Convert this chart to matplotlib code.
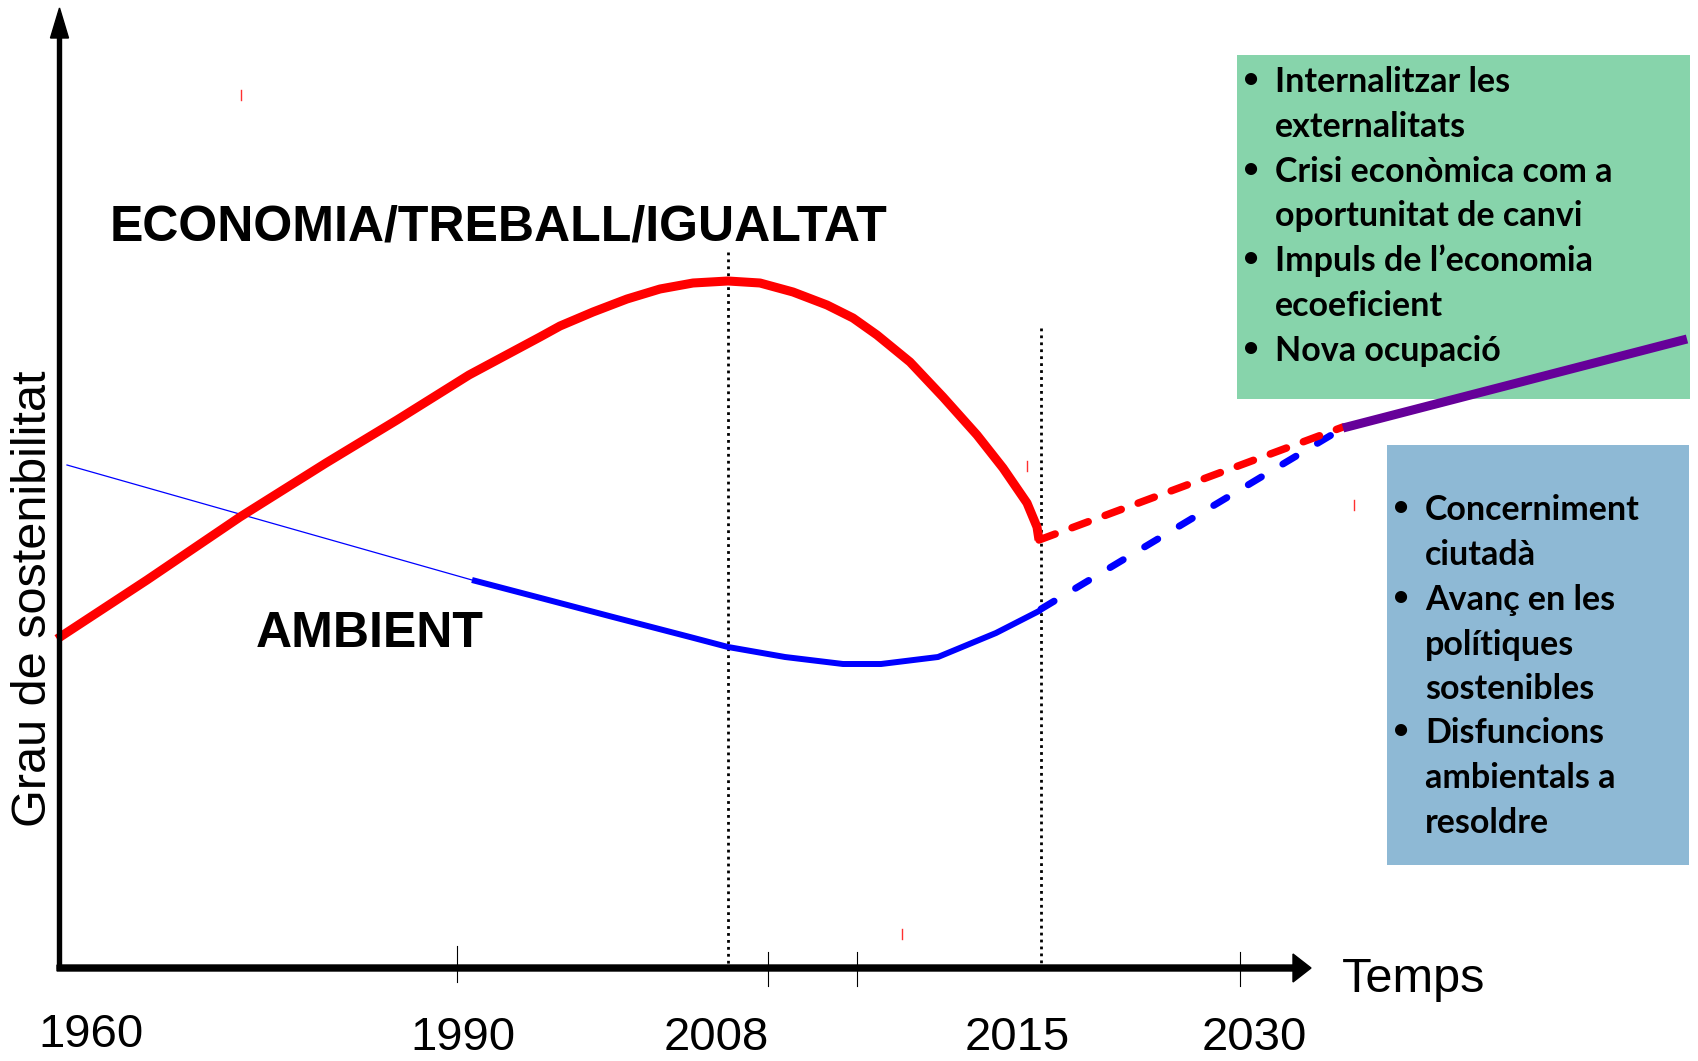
import matplotlib.pyplot as plt
from matplotlib.patches import FancyArrow, Rectangle

# Esquema en coordenades de píxel (origen a dalt a l'esquerra)
W, H = 1699, 1061

# Corba ECONOMIA/TREBALL/IGUALTAT (vermella)
econ_x = [57, 147, 240, 326, 397, 469, 540, 560, 593, 627, 660, 693, 728, 760, 793, 827,
          853, 877, 910, 943, 977, 1003, 1027, 1037, 1039]
econ_y = [639, 580, 517, 463, 420, 375, 337, 326, 312, 299, 289, 283, 281, 283, 292, 305,
          318, 335, 362, 397, 435, 468, 503, 527, 540]

# Corba AMBIENT (blava): tram prim i tram gruixut
amb_thin_x = [67, 472]
amb_thin_y = [465, 580]
amb_x = [472, 537, 613, 690, 728, 785, 843, 881, 938, 996, 1041]
amb_y = [580, 597, 617, 637, 647, 657, 664, 664, 657, 633, 610]

# Projeccions fins a 2030 i convergència
econ_proj_x = [1039, 1343]
econ_proj_y = [540, 427]
amb_proj_x = [1041, 1343]
amb_proj_y = [609, 428]
conv_x = [1343, 1687]
conv_y = [428, 339]

# Línies verticals puntejades (2008 i 2015)
vline_x = [728, 1041]
vline_top = [252, 328]

# Eix temporal
year_labels = ['1960', '1990', '2008', '2015', '2030']
year_label_x = [91, 463, 716, 1017, 1254]
year_label_base = [1047, 1050, 1050, 1050, 1050]
tick_x = [457, 768, 857, 1240]
tick_top = [946, 952, 952, 952]
tick_bot = [982, 986, 986, 986]

green_lines = ['Internalitzar les', 'externalitats', 'Crisi econòmica com a',
               'oportunitat de canvi', 'Impuls de l\u2019economia', 'ecoeficient',
               'Nova ocupació']
green_bullets = [0, 2, 4, 6]
green_base = [92, 137, 182, 226, 271, 316, 361]

blue_lines = ['Concerniment', 'ciutadà', 'Avanç en les', 'polítiques',
              'sostenibles', 'Disfuncions', 'ambientals a', 'resoldre']
blue_bullets = [0, 2, 5]
blue_base = [520, 565, 610, 655, 699, 743, 788, 833]

# petites marques vermelles disperses
stray_x = [241, 902, 1027, 1354]
stray_y = [95, 934, 466, 505]

fig = plt.figure(figsize=(W / 100, H / 100), dpi=100)
ax = fig.add_axes([0, 0, 1, 1])
ax.set_xlim(0, W)
ax.set_ylim(H, 0)
ax.axis('off')

arial = ['Liberation Sans', 'DejaVu Sans']
calib = ['Lato', 'DejaVu Sans']

# caixes de text
ax.add_patch(Rectangle((1237, 55), 453, 344, facecolor='#87D4AB', edgecolor='none', zorder=1))
ax.add_patch(Rectangle((1387, 445), 302, 420, facecolor='#8EB9D5', edgecolor='none', zorder=1))

for i, (t, yb) in enumerate(zip(green_lines, green_base)):
    ax.text(1275, yb, t, fontsize=24.5, fontweight='bold', family=calib, va='baseline', zorder=5)
    if i in green_bullets:
        ax.text(1243, yb - 4, '\u2022', fontsize=20, fontweight='bold', family=calib,
                va='baseline', zorder=5)
for i, (t, yb) in enumerate(zip(blue_lines, blue_base)):
    ax.text(1425, yb, t, fontsize=24.5, fontweight='bold', family=calib, va='baseline', zorder=5)
    if i in blue_bullets:
        ax.text(1393, yb - 4, '\u2022', fontsize=20, fontweight='bold', family=calib,
                va='baseline', zorder=5)

# línies verticals
for x, top in zip(vline_x, vline_top):
    ax.plot([x, x], [top, 966], color='black', lw=2, linestyle=(0, (1, 1.5)), zorder=2)

# corbes
ax.plot(amb_thin_x, amb_thin_y, color='#0000FF', lw=0.9, zorder=3)
ax.plot(amb_x, amb_y, color='#0000FF', lw=4.3, solid_capstyle='butt',
        solid_joinstyle='round', zorder=3)
ax.plot(econ_x, econ_y, color='#FF0000', lw=6.5, solid_capstyle='butt',
        solid_joinstyle='round', zorder=4)
ax.plot(amb_proj_x, amb_proj_y, color='#0000FF', lw=5, linestyle=(0, (2.2, 3.6)),
        dash_capstyle='round', zorder=3)
ax.plot(econ_proj_x, econ_proj_y, color='#FF0000', lw=5.4, linestyle=(0, (2.3, 2.4)),
        dash_capstyle='round', zorder=4)
ax.plot(conv_x, conv_y, color='#660099', lw=6.5, solid_capstyle='butt', zorder=4)

for x, y in zip(stray_x, stray_y):
    ax.plot([x, x], [y - 5, y + 5], color='#FF3030', lw=1, zorder=2)

# eixos amb fletxa
ax.add_patch(FancyArrow(57, 968, 1311 - 57, 0, width=6, head_width=28, head_length=18,
                        length_includes_head=True, color='black', zorder=6))
ax.add_patch(FancyArrow(59.5, 969, 0, 8 - 969, width=4, head_width=18, head_length=30,
                        length_includes_head=True, color='black', zorder=6))
for x, t0, t1 in zip(tick_x, tick_top, tick_bot):
    ax.plot([x, x], [t0, t1], color='black', lw=0.8, zorder=6)

for lab, x, y in zip(year_labels, year_label_x, year_label_base):
    ax.text(x, y, lab, fontsize=34, family=arial, ha='center', va='baseline')

ax.text(1342, 992, 'Temps', fontsize=35, family=arial, ha='left', va='baseline')
ax.text(34, 599, 'Grau de sostenibilitat', fontsize=35, family=arial, rotation=90,
        ha='center', va='center')
ax.text(110, 240, 'ECONOMIA/TREBALL/IGUALTAT', fontsize=36, fontweight='bold', family=arial,
        ha='left', va='baseline')
ax.text(256, 647, 'AMBIENT', fontsize=36, fontweight='bold', family=arial,
        ha='left', va='baseline')

fig.savefig('out.png', dpi=100)
